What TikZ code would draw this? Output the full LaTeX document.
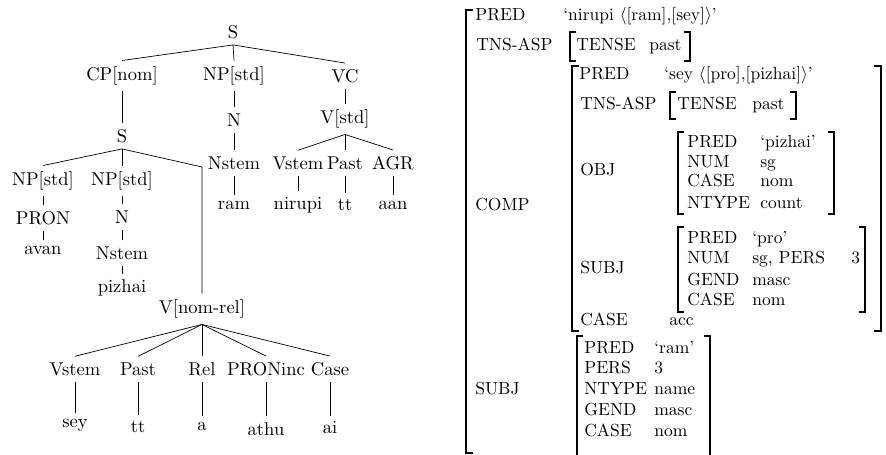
\documentclass[tikz,border=0pt]{standalone}
\usepackage{amsmath}
\usepackage{amssymb}
\usepackage{tikz}

\begin{document}
\begin{tikzpicture}[x=.5714pt, y=-.5714pt,
    syn/.style={font=\fontsize{10.6}{12.7}\selectfont},
    attr/.style={anchor=base west, inner sep=0pt},
    brack/.style={line width=.9pt}]
  \useasboundingbox (0,0) rectangle (886,455);
  % c-structure
  \begin{scope}[every node/.style={syn}]
  \node (s) at (233,32) {S};
  \node (cp) at (122,76) {CP[nom]};
  \node (np) at (234,76) {NP[std]};
  \node (vc) at (345,76) {VC};
  \node (s2) at (122,136) {S};
  \node (n) at (234,120) {N};
  \node (nstem) at (234,163) {Nstem};
  \node (ram) at (234,205) {ram};
  \node (vstd) at (345,119) {V[std]};
  \node (vstem) at (298,163) {Vstem};
  \node (past) at (345,163) {Past};
  \node (agr) at (393,163) {AGR};
  \node (nirupi) at (298,205) {nirupi};
  \node (tt) at (345,205) {tt};
  \node (aan) at (393,205) {aan};
  \node (npa) at (43,181) {NP[std]};
  \node (npb) at (122,181) {NP[std]};
  \node (pron) at (43,218) {PRON};
  \node (nb) at (122,217) {N};
  \node (avan) at (43,250) {avan};
  \node (nstemb) at (122,253) {Nstem};
  \node (pizhai) at (122,288) {pizhai};
  \coordinate (bend) at (202,167);
  \node (vnr) at (202,309) {V[nom-rel]};
  \node (vstemb) at (75,369) {Vstem};
  \node (pastb) at (138,369) {Past};
  \node (rel) at (202,369) {Rel};
  \node (proninc) at (266,369) {PRONinc};
  \node (case) at (330,369) {Case};
  \node (sey) at (75,425) {sey};
  \node (ttb) at (138,427) {tt};
  \node (a) at (202,426) {a};
  \node (athu) at (266,429) {athu};
  \node (ai) at (330,428) {ai};
  \end{scope}
  \foreach \c in {cp,np,vc} \draw (s.south) -- (\c.north);
  \foreach \c in {vstem,past,agr} \draw (vstd.south) -- (\c.north);
  \foreach \c in {npa,npb} \draw (s2.south) -- (\c.north);
  \foreach \c in {vstemb,pastb,rel,proninc,case} \draw (vnr.south) -- (\c.north);
  \draw (cp) -- (s2) (np) -- (n) (n) -- (nstem) (nstem) -- (ram)
    (vc) -- (vstd) (vstem) -- (nirupi) (past) -- (tt) (agr) -- (aan)
    (npa) -- (pron) (pron) -- (avan) (npb) -- (nb) (nb) -- (nstemb) (nstemb) -- (pizhai)
    (vstemb) -- (sey) (pastb) -- (ttb) (rel) -- (a) (proninc) -- (athu) (case) -- (ai);
  \draw (s2.south) -- (bend) -- (vnr.north);
  % f-structure
  \node[attr] (pred) at (475,21) {PRED};
  \node[attr] (predv) at (563,21) {`nirupi $\langle$[ram],[sey]$\rangle$'};
  \node[attr] (tns) at (476,51) {TNS-ASP};
  \node[attr] (tense) at (576,51) {TENSE};
  \node[attr] (tensev) at (649,51) {past};
  \node[attr] (comp) at (475,211) {COMP};
  \node[attr] (subj) at (475,395) {SUBJ};
  \node[attr] (cpred) at (579,80) {PRED};
  \node[attr] (cpredv) at (664,80) {`sey $\langle$[pro],[pizhai]$\rangle$'};
  \node[attr] (ctns) at (580,110) {TNS-ASP};
  \node[attr] (ctense) at (677,110) {TENSE};
  \node[attr] (ctensev) at (752,110) {past};
  \node[attr] (cobj) at (580,176) {OBJ};
  \node[attr] (opred) at (687,148) {PRED};
  \node[attr] (opredv) at (760,148) {`pizhai'};
  \node[attr] (onum) at (687,168) {NUM};
  \node[attr] (onumv) at (760,168) {sg};
  \node[attr] (ocase) at (687,187) {CASE};
  \node[attr] (ocasev) at (760,187) {nom};
  \node[attr] (ontype) at (687,209) {NTYPE};
  \node[attr] (ontypev) at (760,209) {count};
  \node[attr] (csubj) at (580,274) {SUBJ};
  \node[attr] (spred) at (687,244) {PRED};
  \node[attr] (spredv) at (752,244) {`pro'};
  \node[attr] (snum) at (687,264) {NUM};
  \node[attr] (snumv) at (752,264) {sg, PERS};
  \node[attr] (spers) at (851,264) {3};
  \node[attr] (sgend) at (687,286) {GEND};
  \node[attr] (sgendv) at (752,286) {masc};
  \node[attr] (scase) at (687,306) {CASE};
  \node[attr] (scasev) at (752,306) {nom};
  \node[attr] (ccase) at (580,326) {CASE};
  \node[attr] (ccasev) at (669,326) {acc};
  \node[attr] (rpred) at (584,354) {PRED};
  \node[attr] (rpredv) at (654,354) {`ram'};
  \node[attr] (rpers) at (584,374) {PERS};
  \node[attr] (rpersv) at (654,374) {3};
  \node[attr] (rntype) at (584,395) {NTYPE};
  \node[attr] (rntypev) at (654,395) {name};
  \node[attr] (rgend) at (584,416) {GEND};
  \node[attr] (rgendv) at (654,416) {masc};
  \node[attr] (rcase) at (584,437) {CASE};
  \node[attr] (rcasev) at (654,437) {nom};
  % brackets
  \draw[brack] (473,10) -- ++(-7,0) -- ++(0,443) -- ++(7,0);
  \draw[brack] (576,32) -- ++(-6,0) -- ++(0,29) -- ++(6,0);
  \draw[brack] (684,32) -- ++(6,0) -- ++(0,29) -- ++(-6,0);
  \draw[brack] (579,66) -- ++(-7,0) -- ++(0,265) -- ++(7,0);
  \draw[brack] (874,66) -- ++(7,0) -- ++(0,265) -- ++(-7,0);
  \draw[brack] (676,92) -- ++(-6,0) -- ++(0,27) -- ++(6,0);
  \draw[brack] (790,92) -- ++(6,0) -- ++(0,27) -- ++(-6,0);
  \draw[brack] (684,132) -- ++(-6,0) -- ++(0,82) -- ++(6,0);
  \draw[brack] (828,132) -- ++(6,0) -- ++(0,82) -- ++(-6,0);
  \draw[brack] (684,227) -- ++(-6,0) -- ++(0,85) -- ++(6,0);
  \draw[brack] (859,227) -- ++(6,0) -- ++(0,85) -- ++(-6,0);
  \draw[brack] (583,336) -- ++(-6,0) -- ++(0,124);
  \draw[brack] (704,336) -- ++(6,0) -- ++(0,124);
\end{tikzpicture}
\end{document}
